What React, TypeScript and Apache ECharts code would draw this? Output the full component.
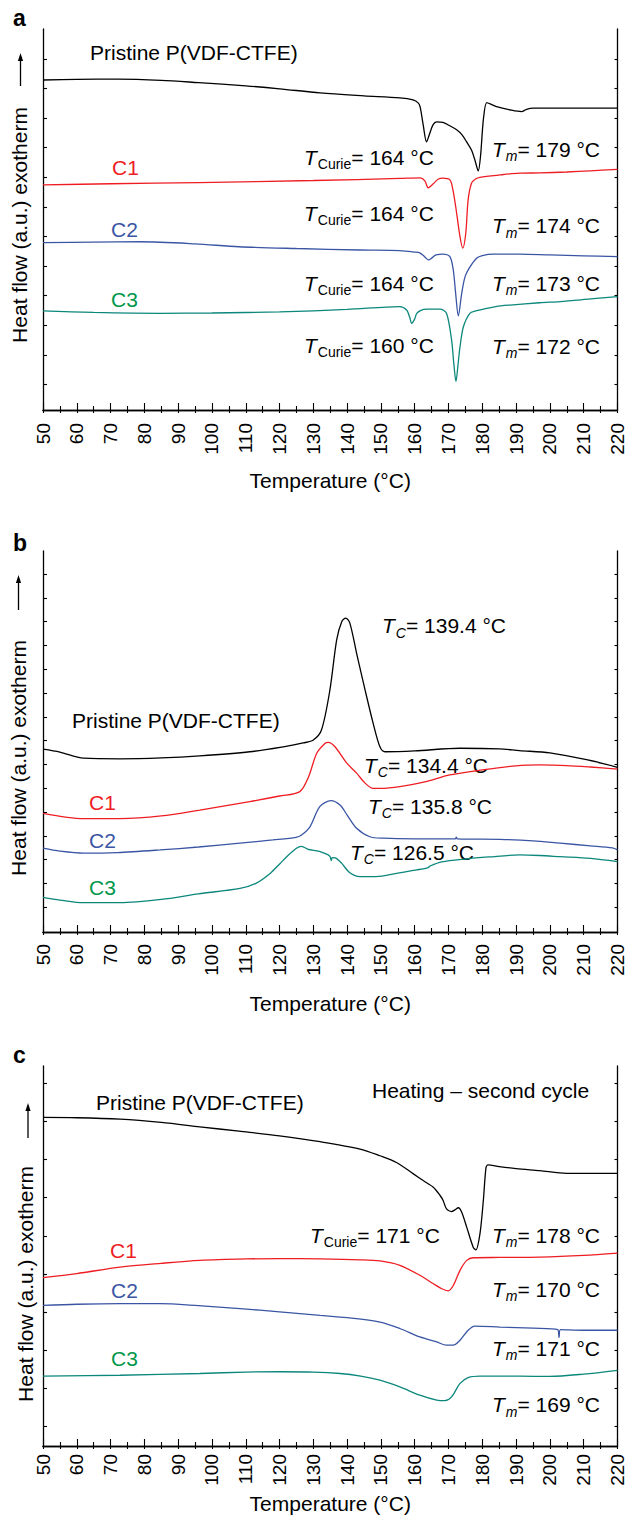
import React, { useEffect, useRef } from "react";
import * as echarts from "echarts";

// ---------------- DATA ----------------
const FONT = "'Liberation Sans', Arial, Helvetica, sans-serif";
const xMin = 50;
const xMax = 220;
const xStep = 10;
const yMin = 0;
const yMax = 13;

const panelLetters = ["a", "b", "c"];
const yAxisTitle = "Heat flow (a.u.) exotherm";
const xAxisTitle = "Temperature (\u00B0C)";
const pristineName = "Pristine P(VDF-CTFE)";
const sampleNames = ["C1", "C2", "C3"];
const cycleNote = "Heating \u2013 second cycle";

// transition temperatures written on the panels
const aCurieTemps = ["164", "164", "164", "160"];
const aMeltTemps = ["179", "174", "173", "172"];
const bCrystTemps = ["139.4", "134.4", "135.8", "126.5"];
const cCurieTemp = "171";
const cMeltTemps = ["178", "170", "171", "169"];

// y tick values (a.u.) of each panel
const yTicksA = [0.87, 1.88, 2.89, 3.9, 4.91, 5.92, 6.93, 7.94, 8.95, 9.96, 10.97, 11.98];
const yTicksB = [0.84, 1.65, 2.47, 3.28, 4.09, 4.9, 5.72, 6.53, 7.34, 8.15, 8.97, 9.78, 10.59, 11.4, 12.22];
const yTicksC = [0.66, 1.97, 3.27, 4.58, 5.89, 7.19, 8.5, 9.81, 11.11, 12.42];

// panel a : first heating
const aPristine: [number, number][] = [
  [50, 11.26], [60, 11.28], [72, 11.29], [85, 11.25], [96, 11.17], [110, 11.06], [120, 10.96], [132, 10.82],
  [145, 10.72], [155.6, 10.65], [159.5, 10.58], [161, 10.48], [161.6, 10.34], [162.5, 9.73], [163.5, 9.15],
  [164.3, 9.39], [165.4, 9.73], [166.5, 9.83], [168.3, 9.81], [170.5, 9.69], [172.4, 9.56], [174, 9.39],
  [175.3, 9.16], [176.8, 8.87], [177.8, 8.53], [178.8, 8.16], [179.5, 8.7], [180.3, 9.9], [181.3, 10.49],
  [182.5, 10.44], [184.2, 10.35], [188.2, 10.24], [191.6, 10.18], [193.1, 10.26], [195, 10.3], [200, 10.3],
  [210, 10.3], [220, 10.3],
];
const aC1: [number, number][] = [
  [50, 7.68], [70, 7.72], [96, 7.76], [130, 7.83], [155.6, 7.9], [161.6, 7.92], [163, 7.82], [164, 7.58],
  [165.4, 7.71], [167, 7.88], [168.3, 7.91], [170.4, 7.85], [171.3, 7.51], [172.4, 6.72], [173.4, 5.91],
  [174.2, 5.52], [175.1, 6.03], [175.8, 7.17], [176.8, 7.74], [178, 7.88], [179.3, 7.94], [185.2, 8.02],
  [191, 8.08], [197, 8.09], [205, 8.12], [212, 8.16], [220, 8.21],
];
const aC2: [number, number][] = [
  [50, 5.71], [65, 5.73], [78.7, 5.74], [95, 5.67], [108, 5.57], [125, 5.51], [143.8, 5.46], [155.6, 5.44],
  [160, 5.39], [161.5, 5.36], [163, 5.22], [164.1, 5.12], [165.2, 5.2], [166.3, 5.29], [168.3, 5.32],
  [170.4, 5.23], [171.4, 4.78], [172.1, 3.99], [172.9, 3.21], [173.9, 3.98], [174.9, 4.55], [176.4, 4.89],
  [178.3, 5.18], [180, 5.27], [183.3, 5.32], [191, 5.32], [200, 5.29], [210, 5.26], [220, 5.23],
];
const aC3: [number, number][] = [
  [50, 3.38], [65, 3.33], [84.6, 3.3], [100, 3.31], [120, 3.35], [140, 3.43], [155.6, 3.53], [157.6, 3.41],
  [158.5, 3.17], [159.1, 2.96], [160, 3.11], [160.6, 3.3], [162, 3.41], [163.5, 3.44], [167.5, 3.44],
  [169.4, 3.3], [170.9, 2.39], [171.6, 1.54], [172.2, 0.97], [172.8, 1.54], [173.4, 2.16], [174.4, 2.84],
  [176.3, 3.3], [178, 3.38], [180.3, 3.44], [184, 3.53], [188.2, 3.58], [197, 3.66], [203, 3.7], [212, 3.79],
  [220, 3.87],
];

// panel b : cooling
const bPristine: [number, number][] = [
  [50, 6.24], [55, 6.14], [62, 5.93], [72.8, 5.91], [85, 5.94], [96.4, 6.01], [111.2, 6.15], [121.1, 6.32],
  [127, 6.45], [130, 6.55], [132.4, 6.89], [134.9, 8.26], [136.9, 9.97], [138.4, 10.59], [139.6, 10.71],
  [140.8, 10.54], [142.8, 9.51], [145.3, 8.26], [147.7, 7.12], [149.7, 6.32], [151.2, 6.15], [160, 6.18],
  [173.4, 6.27], [185, 6.25], [191, 6.19], [200, 6.11], [211.2, 5.87], [220, 5.62],
];
const bC1: [number, number][] = [
  [50, 4.05], [62, 3.87], [72.8, 3.87], [85, 3.96], [96.4, 4.16], [111.2, 4.45], [120, 4.64], [126, 4.79],
  [128.6, 5.3], [131, 6.1], [133.5, 6.44], [134.4, 6.47], [136.4, 6.32], [139.9, 5.76], [142.8, 5.42],
  [145.3, 5.08], [147.7, 4.9], [150, 4.9], [155.6, 4.96], [163, 5.12], [170.4, 5.36], [180, 5.53], [190, 5.67],
  [197, 5.7], [205, 5.68], [212, 5.63], [220, 5.56],
];
const bC2: [number, number][] = [
  [50, 2.86], [55, 2.76], [62, 2.69], [72, 2.71], [84.6, 2.8], [96, 2.9], [108.3, 3.03], [118, 3.14],
  [124.9, 3.23], [126.5, 3.31], [129, 3.59], [131.9, 4.28], [135.2, 4.48], [137.9, 4.33], [140, 3.99],
  [142.8, 3.54], [146.7, 3.25], [150.7, 3.2], [160, 3.18], [172, 3.18], [172.3, 3.24], [172.6, 3.18],
  [185.2, 3.16], [195, 3.11], [203, 3.03], [212, 2.94], [218.5, 2.87], [220, 2.8],
];
const bC3: [number, number][] = [
  [50, 1.18], [55, 1.09], [62, 1.0], [72.8, 1.0], [85, 1.11], [96, 1.3], [108.3, 1.49], [113, 1.66],
  [117.2, 2.0], [120.1, 2.33], [122.1, 2.57], [125, 2.86], [126.5, 2.92], [128.5, 2.82], [130.5, 2.78],
  [132, 2.74], [134.4, 2.63], [135, 2.56], [135.3, 2.44], [135.6, 2.54], [136.5, 2.53], [138.4, 2.34],
  [140.8, 2.02], [143.8, 1.89], [148.5, 1.89], [155, 2.01], [160.6, 2.12], [164, 2.2], [164.5, 2.25],
  [168, 2.39], [175, 2.49], [182, 2.56], [191, 2.63], [197, 2.61], [203, 2.57], [212, 2.51], [220, 2.4],
];

// panel c : second heating
const cPristine: [number, number][] = [
  [50, 11.24], [60, 11.23], [72.8, 11.18], [85, 11.07], [96.4, 10.92], [108, 10.77], [120, 10.61],
  [132, 10.41], [143.8, 10.16], [149.7, 9.93], [154.6, 9.7], [159.6, 9.31], [162.5, 9.08], [165.5, 8.85],
  [167.5, 8.57], [168.4, 8.4], [169.4, 8.11], [170.9, 8.02], [171.9, 8.08], [172.9, 8.15], [173.9, 8.0],
  [175.4, 7.48], [177.3, 6.8], [178.1, 6.71], [179.3, 7.26], [180.3, 8.4], [181.1, 9.53], [181.7, 9.62],
  [185, 9.56], [190, 9.49], [197, 9.42], [205, 9.33], [212, 9.33], [220, 9.33],
];
const cC1: [number, number][] = [
  [50, 5.76], [60, 5.9], [72.8, 6.12], [85, 6.25], [96.4, 6.35], [110, 6.4], [120, 6.41], [132, 6.4],
  [143.8, 6.37], [149.7, 6.33], [155.6, 6.18], [161.5, 5.84], [165.5, 5.55], [168, 5.38], [169.9, 5.31],
  [171.4, 5.49], [173.4, 6.01], [175.4, 6.35], [177.3, 6.44], [185, 6.45], [197, 6.46], [210, 6.52],
  [220, 6.6],
];
const cC2: [number, number][] = [
  [50, 4.81], [60, 4.85], [72.8, 4.87], [84.6, 4.87], [96, 4.8], [108.3, 4.7], [120, 4.59], [132, 4.47],
  [140, 4.39], [149.7, 4.24], [155.6, 4.02], [161.5, 3.73], [166.5, 3.56], [169.4, 3.45], [171.4, 3.45],
  [173.4, 3.62], [175.8, 3.96], [177.8, 4.1], [185.2, 4.07], [195, 4.03], [202.3, 3.98], [202.7, 3.71],
  [203.1, 3.98], [210, 3.96], [220, 3.96],
];
const cC3: [number, number][] = [
  [50, 2.39], [72.8, 2.42], [96.4, 2.48], [110, 2.53], [120.1, 2.54], [130, 2.53], [137.9, 2.48], [144, 2.39],
  [149.7, 2.25], [155.6, 2.02], [161.5, 1.74], [166.5, 1.57], [168.9, 1.55], [170.9, 1.68], [173.4, 2.14],
  [175.8, 2.34], [179.3, 2.39], [191, 2.39], [200, 2.38], [210, 2.46], [220, 2.59],
];

// ---------------- STYLE / LAYOUT ----------------
const COL = { pristine: "#000000", c1: "#ee1d23", c2: "#3a55a4", c3: "#0b877c" };
const LABEL_COL = ["#ee1d23", "#3a55a4", "#00974b"];

const GRID_LEFT = 43;
const GRID_WIDTH = 574.5;
const grids = [
  { top: 29, height: 381, labelMargin: 13, nameGap: 60 },
  { top: 551, height: 381, labelMargin: 12, nameGap: 61 },
  { top: 1066, height: 380, labelMargin: 8, nameGap: 47 },
];

const richStyles = {
  i: { fontFamily: FONT, fontSize: 21, fontStyle: "italic", color: "#000" },
  s: { fontFamily: FONT, fontSize: 14, color: "#000", padding: [14, 0, 0, 1] },
  si: { fontFamily: FONT, fontSize: 14, fontStyle: "italic", color: "#000", padding: [14, 0, 0, 1] },
  n: { fontFamily: FONT, fontSize: 21, color: "#000" },
};

function plain(x: number, y: number, text: string, color = "#000", extra: any = {}) {
  return {
    type: "text",
    x,
    y,
    silent: true,
    style: {
      text,
      fill: color,
      fontFamily: FONT,
      fontSize: 21,
      align: "left",
      verticalAlign: "middle",
      textAlign: "left",
      textVerticalAlign: "middle",
      ...extra,
    },
  };
}

function tLabel(x: number, y: number, sub: string, italicSub: boolean, value: string) {
  const subKey = italicSub ? "si" : "s";
  return {
    type: "text",
    x,
    y,
    silent: true,
    style: {
      text: `{i|T}{${subKey}|${sub}}{n|= ${value} \u00B0C}`,
      rich: richStyles,
      fill: "#000",
      fontFamily: FONT,
      fontSize: 21,
      align: "left",
      verticalAlign: "middle",
      textAlign: "left",
      textVerticalAlign: "middle",
    },
  };
}

function yTitle(x: number, y: number, arrowX: number, arrowTop: number, arrowBottom: number) {
  return [
    {
      type: "text",
      x,
      y,
      rotation: Math.PI / 2,
      silent: true,
      style: {
        text: yAxisTitle,
        fill: "#000",
        fontFamily: FONT,
        fontSize: 21,
        align: "center",
        verticalAlign: "middle",
        textAlign: "center",
        textVerticalAlign: "middle",
      },
    },
    {
      type: "line",
      silent: true,
      shape: { x1: arrowX, y1: arrowBottom, x2: arrowX, y2: arrowTop + 6 },
      style: { stroke: "#000", lineWidth: 1.3 },
    },
    {
      type: "polygon",
      silent: true,
      shape: {
        points: [
          [arrowX, arrowTop],
          [arrowX - 2.6, arrowTop + 8],
          [arrowX + 2.6, arrowTop + 8],
        ],
      },
      style: { fill: "#000" },
    },
  ];
}

function buildOption() {
  const axisLine = { show: true, lineStyle: { color: "#000", width: 1.3 } };
  const tickLine = { color: "#000", width: 1.1 };
  const xAxis: any[] = [];
  const yAxis: any[] = [];
  const yTicks = [yTicksA, yTicksB, yTicksC];
  grids.forEach((g, i) => {
    xAxis.push({
      gridIndex: i,
      type: "value",
      position: "bottom",
      min: xMin,
      max: xMax,
      interval: xStep,
      axisLine,
      axisTick: { show: true, inside: true, length: 7, lineStyle: tickLine },
      minorTick: { show: true, splitNumber: 2, length: 4, lineStyle: tickLine },
      axisLabel: { rotate: 90, fontSize: 19, color: "#000", fontFamily: FONT, margin: g.labelMargin },
      splitLine: { show: false },
      minorSplitLine: { show: false },
      name: xAxisTitle,
      nameLocation: "middle",
      nameGap: g.nameGap,
      nameTextStyle: { fontSize: 21, color: "#000", fontFamily: FONT },
    });
    xAxis.push({
      gridIndex: i,
      type: "value",
      position: "top",
      min: xMin,
      max: xMax,
      interval: 5,
      axisLine,
      axisTick: { show: true, inside: true, length: 3, lineStyle: tickLine },
      axisLabel: { show: false },
      splitLine: { show: false },
    });
    yAxis.push({
      gridIndex: i,
      type: "value",
      position: "left",
      min: yMin,
      max: yMax,
      interval: 1,
      axisLine,
      axisTick: { show: true, inside: true, length: 4, lineStyle: tickLine, customValues: yTicks[i] },
      axisLabel: { show: false },
      splitLine: { show: false },
    });
    yAxis.push({
      gridIndex: i,
      type: "value",
      position: "right",
      min: yMin,
      max: yMax,
      interval: 1,
      axisLine,
      axisTick: { show: true, inside: true, length: 3, lineStyle: tickLine, customValues: yTicks[i] },
      axisLabel: { show: false },
      splitLine: { show: false },
    });
  });

  const curves: [number, [number, number][], string][] = [
    [0, aPristine, COL.pristine], [0, aC1, COL.c1], [0, aC2, COL.c2], [0, aC3, COL.c3],
    [1, bPristine, COL.pristine], [1, bC1, COL.c1], [1, bC2, COL.c2], [1, bC3, COL.c3],
    [2, cPristine, COL.pristine], [2, cC1, COL.c1], [2, cC2, COL.c2], [2, cC3, COL.c3],
  ];
  const series = curves.map(([g, data, color]) => ({
    type: "line",
    xAxisIndex: g * 2,
    yAxisIndex: g * 2,
    data,
    showSymbol: false,
    symbol: "none",
    smooth: 0.3,
    silent: true,
    lineStyle: { color, width: 1.3 },
  }));

  const letterStyle = { fontWeight: "bold", fontSize: 23 };
  const graphic: any[] = [
    // panel a
    plain(13, 17.5, panelLetters[0], "#000", letterStyle),
    ...yTitle(19.5, 225, 20.5, 53, 86),
    plain(90, 52.5, pristineName),
    plain(112, 167, sampleNames[0], LABEL_COL[0]),
    plain(111, 229, sampleNames[1], LABEL_COL[1]),
    plain(111, 299.5, sampleNames[2], LABEL_COL[2]),
    tLabel(304, 157, "Curie", false, aCurieTemps[0]),
    tLabel(492, 149, "m", true, aMeltTemps[0]),
    tLabel(304, 213, "Curie", false, aCurieTemps[1]),
    tLabel(492, 225.5, "m", true, aMeltTemps[1]),
    tLabel(304, 283, "Curie", false, aCurieTemps[2]),
    tLabel(492, 283, "m", true, aMeltTemps[2]),
    tLabel(304, 345, "Curie", false, aCurieTemps[3]),
    tLabel(492, 346, "m", true, aMeltTemps[3]),
    // panel b
    plain(13, 542.5, panelLetters[1], "#000", letterStyle),
    ...yTitle(18.5, 758, 18.5, 575, 610),
    plain(72, 720, pristineName),
    tLabel(382, 625.5, "C", true, bCrystTemps[0]),
    tLabel(364, 765, "C", true, bCrystTemps[1]),
    tLabel(368, 806, "C", true, bCrystTemps[2]),
    tLabel(350, 852, "C", true, bCrystTemps[3]),
    plain(89, 802, sampleNames[0], LABEL_COL[0]),
    plain(89, 840, sampleNames[1], LABEL_COL[1]),
    plain(89, 887, sampleNames[2], LABEL_COL[2]),
    // panel c
    plain(13, 1054.5, panelLetters[2], "#000", letterStyle),
    ...yTitle(25.5, 1284, 28, 1103, 1138),
    plain(372, 1090.5, cycleNote),
    plain(96, 1102, pristineName),
    tLabel(310, 1235, "Curie", false, cCurieTemp),
    tLabel(492, 1235, "m", true, cMeltTemps[0]),
    plain(110, 1250, sampleNames[0], LABEL_COL[0]),
    tLabel(492, 1289, "m", true, cMeltTemps[1]),
    plain(111, 1290, sampleNames[1], LABEL_COL[1]),
    tLabel(492, 1348, "m", true, cMeltTemps[2]),
    plain(111, 1358, sampleNames[2], LABEL_COL[2]),
    tLabel(492, 1404.5, "m", true, cMeltTemps[3]),
  ];

  return {
    animation: false,
    backgroundColor: "#ffffff",
    textStyle: { fontFamily: FONT },
    grid: grids.map((g) => ({ left: GRID_LEFT, width: GRID_WIDTH, top: g.top, height: g.height, containLabel: false })),
    xAxis,
    yAxis,
    series,
    graphic,
  };
}

export default function App() {
  const ref = useRef<HTMLDivElement>(null);
  useEffect(() => {
    document.body.style.margin = "0";
    const chart = echarts.init(ref.current as HTMLDivElement, null, { renderer: "svg" });
    chart.setOption(buildOption() as any);
    return () => chart.dispose();
  }, []);
  return <div ref={ref} style={{ width: 627, height: 1524 }} />;
}
